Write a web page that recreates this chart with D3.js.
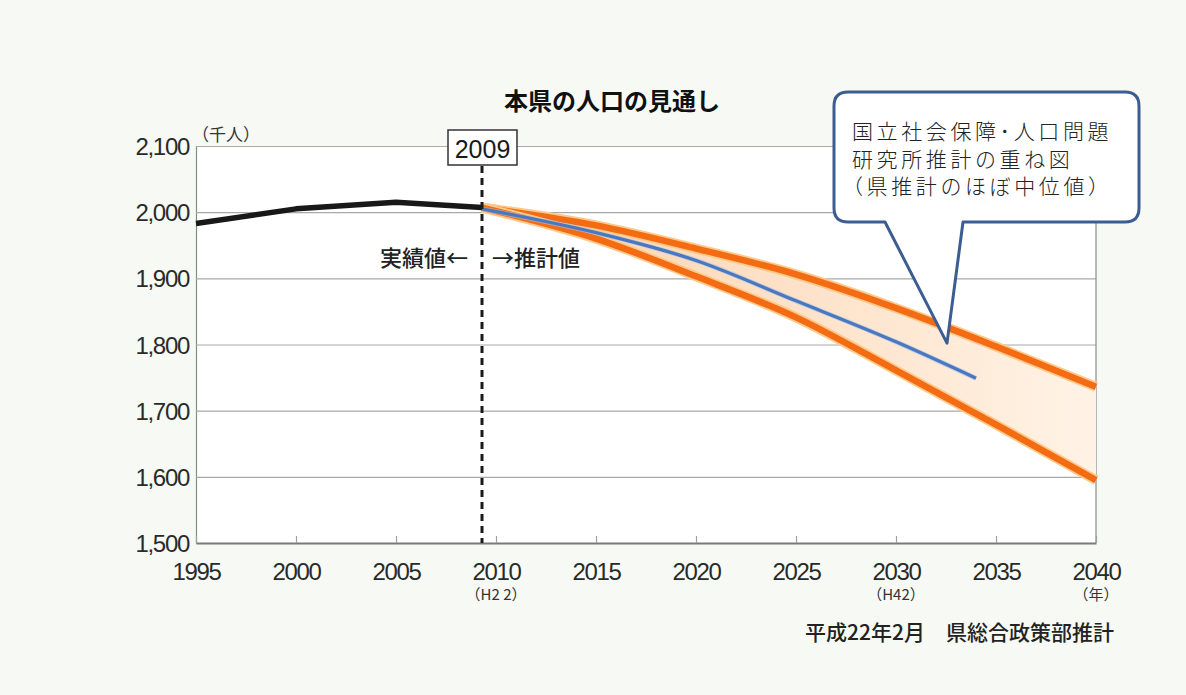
<!DOCTYPE html>
<html><head><meta charset="utf-8">
<script src="https://cdn.jsdelivr.net/npm/d3@7"></script>
<style>
html,body{margin:0;padding:0;background:#f6f9f4;}
svg{display:block;}
</style></head>
<body>
<script>
// ---- data ----
const actualYears  = [1995, 2000, 2005, 2009.3];
const actualValues = [1983, 2005, 2015, 2007];
const projYears  = [2009.3, 2015, 2020, 2025, 2030, 2035, 2040];
const highValues = [2007, 1980, 1945, 1906, 1855, 1797, 1736];
const lowValues  = [2007, 1960, 1903, 1841, 1761, 1679, 1595];
const ipssYears  = [2009.3, 2015, 2020, 2025, 2030, 2034];
const ipssValues = [2005, 1969, 1927, 1866, 1804, 1749];
const splitYear = 2009.3;
const xTicks = [1995, 2000, 2005, 2010, 2015, 2020, 2025, 2030, 2035, 2040];
const yTicks = [1500, 1600, 1700, 1800, 1900, 2000, 2100];
const eraLabels = [{year: 2010, text: "（H2 2）"}, {year: 2030, text: "（H42）"}, {year: 2040, text: "（年）"}];
const calloutLines = ["国立社会保障･人口問題", "研究所推計の重ね図", "（県推計のほぼ中位値）"];
const calloutTarget = {year: 2032.55, value: 1802};

const W = 1186, H = 695;
const M = {left: 196, right: 1096, top: 146, bottom: 543};
const svg = d3.select("body").append("svg").attr("width", W).attr("height", H);
svg.append("rect").attr("width", W).attr("height", H).attr("fill", "#f6f9f4");

const x = d3.scaleLinear().domain([1995, 2040]).range([M.left, M.right]);
const y = d3.scaleLinear().domain([1500, 2100]).range([M.bottom, M.top]);

const numFont = "'Liberation Sans', Arial, sans-serif";
const jpFont = "'Noto Sans CJK JP', 'Noto Sans', sans-serif";

// plot background
svg.append("rect").attr("x", M.left).attr("y", M.top)
  .attr("width", M.right - M.left).attr("height", M.bottom - M.top).attr("fill", "#ffffff");

// y grid + labels
const yAxis = svg.append("g").attr("transform", `translate(${M.left},0)`)
  .call(d3.axisLeft(y).tickValues(yTicks).tickFormat(d3.format(","))
    .tickSize(-(M.right - M.left)).tickPadding(7));
yAxis.select(".domain").attr("stroke", "#8a8a8a").attr("stroke-width", 1.2);
yAxis.selectAll(".tick line").attr("stroke", "#a9a9a9").attr("stroke-width", 1.1);
yAxis.selectAll(".tick text").attr("font-family", numFont).attr("font-size", 24)
  .attr("letter-spacing", "-1.3px").attr("fill", "#2a2a2a").attr("dy", "0.36em");

// right border
svg.append("line").attr("x1", M.right).attr("x2", M.right).attr("y1", M.top).attr("y2", M.bottom)
  .attr("stroke", "#8a8a8a").attr("stroke-width", 1.2);

// x axis
const xAxis = svg.append("g").attr("transform", `translate(0,${M.bottom})`)
  .call(d3.axisBottom(x).tickValues(xTicks).tickFormat(d3.format("d"))
    .tickSizeInner(-7).tickSizeOuter(0).tickPadding(20));
xAxis.select(".domain").attr("stroke", "#7a7a7a").attr("stroke-width", 2);
xAxis.selectAll(".tick line").attr("stroke", "#a0a0a0").attr("stroke-width", 1.2);
xAxis.selectAll(".tick text").attr("font-family", numFont).attr("font-size", 24)
  .attr("letter-spacing", "-1.3px").attr("fill", "#2a2a2a").attr("dy", "0.72em");

// era labels under x ticks
svg.selectAll("text.era").data(eraLabels).enter().append("text")
  .attr("class", "era")
  .attr("x", d => x(d.year)).attr("y", 600).attr("text-anchor", "middle")
  .attr("font-family", jpFont).attr("font-size", 15).attr("fill", "#333")
  .text(d => d.text);

// gradient for band
const defs = svg.append("defs");
const grad = defs.append("linearGradient").attr("id", "band").attr("x1", "0%").attr("x2", "100%");
grad.append("stop").attr("offset", "0%").attr("stop-color", "#fcd2ab");
grad.append("stop").attr("offset", "55%").attr("stop-color", "#fde3cb");
grad.append("stop").attr("offset", "100%").attr("stop-color", "#fff3e6");

const proj = projYears.map((yr, i) => ({yr, hi: highValues[i], lo: lowValues[i]}));
const area = d3.area().x(d => x(d.yr)).y0(d => y(d.lo)).y1(d => y(d.hi)).curve(d3.curveMonotoneX);
svg.append("path").datum(proj).attr("d", area).attr("fill", "url(#band)");

const hiLine = d3.line().x(d => x(d.yr)).y(d => y(d.hi)).curve(d3.curveMonotoneX);
const loLine = d3.line().x(d => x(d.yr)).y(d => y(d.lo)).curve(d3.curveMonotoneX);
[hiLine, loLine].forEach(gen => {
  svg.append("path").datum(proj).attr("d", gen).attr("fill", "none")
    .attr("stroke", "#ffc98a").attr("stroke-width", 10).attr("stroke-linecap", "butt");
  svg.append("path").datum(proj).attr("d", gen).attr("fill", "none")
    .attr("stroke", "#f36b13").attr("stroke-width", 6.5).attr("stroke-linecap", "butt");
});

// IPSS line
const ipss = ipssYears.map((yr, i) => ({yr, v: ipssValues[i]}));
const ipssLine = d3.line().x(d => x(d.yr)).y(d => y(d.v)).curve(d3.curveMonotoneX);
svg.append("path").datum(ipss).attr("d", ipssLine).attr("fill", "none")
  .attr("stroke", "#a9c1e6").attr("stroke-width", 5).attr("opacity", 0.6);
svg.append("path").datum(ipss).attr("d", ipssLine).attr("fill", "none")
  .attr("stroke", "#4a78c0").attr("stroke-width", 3.3);

// actual line
const act = actualYears.map((yr, i) => ({yr, v: actualValues[i]}));
svg.append("path").datum(act)
  .attr("d", d3.line().x(d => x(d.yr)).y(d => y(d.v)))
  .attr("fill", "none").attr("stroke", "#181818").attr("stroke-width", 5.5).attr("stroke-linejoin", "round");

// split marker
const sx = x(splitYear);
svg.append("line").attr("x1", sx).attr("x2", sx).attr("y1", 166).attr("y2", M.bottom)
  .attr("stroke", "#1a1a1a").attr("stroke-width", 3).attr("stroke-dasharray", "7,5");
svg.append("rect").attr("x", sx - 34).attr("y", 130).attr("width", 69).attr("height", 35)
  .attr("fill", "#ffffff").attr("stroke", "#333").attr("stroke-width", 1.5);
svg.append("text").attr("x", sx + 0.5).attr("y", 157.5).attr("text-anchor", "middle")
  .attr("font-family", numFont).attr("font-size", 25).attr("fill", "#1a1a1a").text("2009");

// actual / projection labels
svg.append("text").attr("x", 468).attr("y", 266).attr("text-anchor", "end")
  .attr("font-family", jpFont).attr("font-weight", 500).attr("font-size", 22).attr("fill", "#222")
  .text("実績値←");
svg.append("text").attr("x", 492).attr("y", 266).attr("text-anchor", "start")
  .attr("font-family", jpFont).attr("font-weight", 500).attr("font-size", 22).attr("fill", "#222")
  .text("→推計値");

// title and unit
svg.append("text").attr("x", 612).attr("y", 110).attr("text-anchor", "middle")
  .attr("font-family", jpFont).attr("font-weight", 700).attr("font-size", 24).attr("fill", "#111")
  .text("本県の人口の見通し");
svg.append("text").attr("x", 226).attr("y", 141).attr("text-anchor", "middle")
  .attr("font-family", jpFont).attr("font-size", 17).attr("fill", "#333")
  .text("（千人）");

// source
svg.append("text").attr("x", 1114).attr("y", 640).attr("text-anchor", "end")
  .attr("font-family", jpFont).attr("font-weight", 500).attr("font-size", 21).attr("fill", "#222")
  .text("平成22年2月　県総合政策部推計");

// callout
const bx0 = 834, bx1 = 1139, by0 = 92, by1 = 222, r = 14;
const tx = x(calloutTarget.year), ty = y(calloutTarget.value);
const p = d3.path();
p.moveTo(bx0 + r, by0);
p.lineTo(bx1 - r, by0); p.quadraticCurveTo(bx1, by0, bx1, by0 + r);
p.lineTo(bx1, by1 - r); p.quadraticCurveTo(bx1, by1, bx1 - r, by1);
p.lineTo(963, by1); p.lineTo(tx, ty); p.lineTo(885, by1);
p.lineTo(bx0 + r, by1); p.quadraticCurveTo(bx0, by1, bx0, by1 - r);
p.lineTo(bx0, by0 + r); p.quadraticCurveTo(bx0, by0, bx0 + r, by0);
p.closePath();
svg.append("path").attr("d", p.toString()).attr("fill", "#ffffff")
  .attr("stroke", "#3b5d91").attr("stroke-width", 3).attr("stroke-linejoin", "round");
svg.selectAll("text.callout").data(calloutLines).enter().append("text")
  .attr("class", "callout")
  .attr("x", (d, i) => i === 2 ? 842 : 852).attr("y", (d, i) => 139 + i * 27.5)
  .attr("font-family", jpFont).attr("font-weight", 300).attr("font-size", 21)
  .attr("letter-spacing", "3.6px").attr("fill", "#222")
  .text(d => d);
</script>
</body></html>
